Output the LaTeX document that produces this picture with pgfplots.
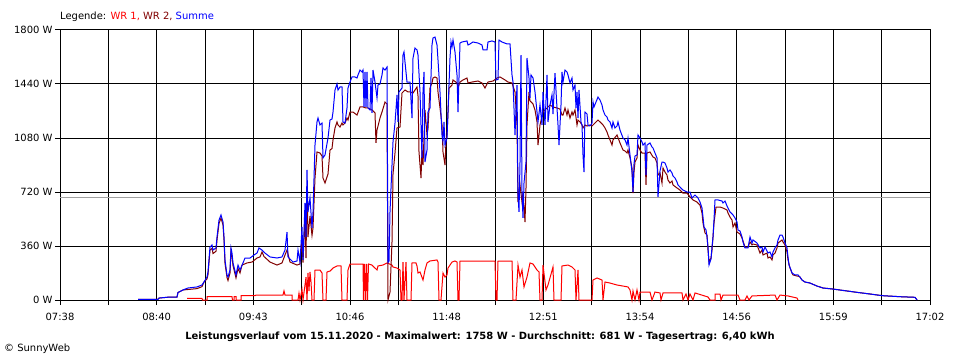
\documentclass[border=0pt]{standalone}
\usepackage{pgfplots}
\pgfplotsset{compat=1.18}
\usepackage{fontspec}
\setmainfont{DejaVu Sans}
\definecolor{wrone}{RGB}{255,0,0}
\definecolor{wrtwo}{RGB}{128,0,0}
\definecolor{summe}{RGB}{0,0,255}
\definecolor{avgline}{RGB}{160,160,160}
\begin{document}
\begin{tikzpicture}[x=1bp,y=1bp]
\useasboundingbox (0,0) rectangle (960,360);
\begin{axis}[
  at={(60bp,60bp)}, anchor=south west,
  scale only axis, width=870bp, height=270bp,
  xmin=0, xmax=870, ymin=0, ymax=1800,
  clip=false,
  axis line style={black, line width=1bp},
  grid=major, grid style={black, line width=1bp},
  tick pos=left, tick align=outside, major tick length=5bp,
  tick style={black, line width=1bp},
  xtick={0,48.333,96.667,145,193.333,241.667,290,338.333,386.667,435,483.333,531.667,580,628.333,676.667,725,773.333,821.667,870},
  xticklabels={07:38,,08:40,,09:43,,10:46,,11:48,,12:51,,13:54,,14:56,,15:59,,17:02},
  ytick={0,360,720,1080,1440,1800},
  yticklabels={0 W,360 W,720 W,1080 W,1440 W,1800 W},
  tick label style={font=\fontsize{10}{12}\selectfont},
  xticklabel style={yshift=-4.5bp},
  yticklabel style={xshift=1bp},
]
\addplot[avgline, line width=1bp] coordinates {(0,681) (870,681)};
\addplot[wrone, line width=1bp] coordinates {
(127,11)(142,11)(142.5,0)(147,0)(147,22)(172,22)(172.5,0)(174,0)(174,22)(176,22)(176,0)(181,0)(181,29)(195,29)(196,33)(223,33)(224,60)(225,33)(232,33)(232,0)(238,0)(239,45)(240,0)(242,70)(243,0)(245,100)(246,153)(247,0)(248,180)(249,60)(250,187)(251,120)(252,0)(254,0)(255,200)(260,200)(262,180)(263,0)(266,0)(267,187)(270,193)(273,213)(277,227)(281,227)(282,0)(287,0)(288,200)(290,240)(303,240)(303.5,0)(304.5,240)(305.5,0)(306.5,240)(307.5,0)(308.5,240)(312,233)(315,213)(317,200)(318,227)(323,233)(327,247)(332,233)(333,220)(337,213)(340,200)(341,0)(342,0)(343,253)(344,0)(346,253)(347,0)(351,0)(352,247)(356,247)(357,227)(358,180)(360,187)(363,133)(365,200)(367,247)(370,260)(377,267)(378,253)(379,0)(381,0)(383,180)(385,153)(387,167)(388,213)(392,253)(395,260)(397,253)(398,0)(399,0)(400,260)(435,260)(436,0)(437,0)(438,260)(452,260)(453,0)(456,0)(458,233)(460,153)(462,200)(464,87)(467,153)(470,247)(473,240)(477,200)(479,187)(480,0)(482,0)(483,233)(486,67)(488,100)(493,220)(494,0)(501,0)(502,227)(508,233)(512,220)(515,200)(516,0)(518,200)(519,0)(532,0)(533,133)(537,147)(542,133)(543,0)(545,120)(550,113)(557,100)(563,93)(568,87)(570,67)(572,0)(573,60)(575,0)(577,67)(579,0)(580,53)(590,53)(592,0)(595,53)(600,47)(601,0)(603,47)(622,47)(623,0)(626,40)(628,0)(630,40)(633,0)(635,47)(648,20)(650,0)(655,0)(655,40)(660,40)(661,0)(663,33)(678,33)(680,0)(685,0)(687,27)(689,0)(692,27)(715,33)(717,0)(720,33)(728,27)(737,13)(738,0)
};
\addplot[wrtwo, line width=1bp] coordinates {
(78,5)(98,5)(99,13)(110,20)(117,20)(118,50)(123,67)(128,70)(137,76)(142,89)(144,120)(147,140)(148,170)(150,333)(152,345)(153,310)(156,325)(157,400)(159,510)(161,547)(163,500)(164,400)(165,245)(167,150)(168,130)(170,180)(171,325)(172,290)(173,230)(176,147)(178,210)(180,180)(182,233)(187,247)(192,253)(197,280)(200,287)(202,320)(204,290)(210,253)(217,233)(222,247)(225,300)(227,333)(230,253)(237,233)(240,240)(242,400)(243,250)(245,560)(246,280)(247,760)(248,420)(250,560)(252,430)(253,480)(255,813)(257,987)(260,980)(262,960)(263,813)(265,780)(268,840)(270,1000)(272,1010)(273,1067)(275,1147)(277,1187)(278,1167)(280,1153)(282,1180)(283,1167)(285,1180)(287,1213)(288,1200)(290,1253)(293,1253)(297,1233)(300,1287)(303,1287)(306,1280)(308,1280)(312,1267)(315,1247)(316,1047)(317,1133)(320,1213)(322,1253)(325,1320)(327,1307)(328,0)(330,53)(332,387)(333,840)(335,980)(337,1147)(340,1153)(342,1380)(345,1400)(348,1387)(350,1387)(353,1380)(357,1420)(358,1360)(359,987)(361,813)(362,1000)(363,900)(365,1267)(367,1100)(368,1147)(370,1413)(372,1447)(373,1480)(375,1487)(377,1480)(378,1387)(380,1280)(382,1167)(383,987)(385,900)(386,1060)(387,1100)(388,1250)(389,1413)(392,1433)(393,1467)(397,1447)(398,1420)(400,1453)(403,1467)(407,1480)(408,1447)(412,1453)(418,1460)(422,1447)(425,1413)(428,1453)(433,1460)(437,1480)(440,1487)(445,1467)(448,1453)(452,1447)(455,1387)(457,1167)(458,653)(460,767)(462,653)(463,720)(465,520)(466,747)(467,1167)(469,1387)(470,1327)(473,1307)(475,1267)(477,1187)(478,1033)(480,1167)(483,1253)(485,1267)(487,1280)(490,1300)(493,1287)(497,1280)(500,1273)(502,1233)(503,1233)(505,1280)(507,1233)(508,1267)(510,1213)(512,1253)(513,1233)(515,1267)(517,1167)(518,1200)(520,1187)(522,1167)(523,1147)(525,1167)(527,1160)(530,1167)(532,1160)(533,1167)(535,1180)(538,1200)(540,1187)(543,1167)(545,1147)(547,1120)(548,1100)(550,1067)(552,1033)(553,1067)(557,1100)(560,1047)(563,1000)(565,993)(567,980)(568,1000)(570,947)(572,880)(573,713)(574,853)(575,920)(577,947)(578,1033)(580,1000)(582,980)(585,980)(586,767)(587,980)(590,987)(593,953)(595,947)(597,913)(598,833)(600,847)(602,780)(603,880)(605,853)(607,833)(608,800)(610,780)(612,793)(613,767)(617,747)(620,733)(623,713)(627,713)(630,687)(633,667)(637,653)(640,633)(642,580)(643,513)(645,447)(647,433)(648,333)(649,253)(651,280)(652,333)(653,420)(654,513)(656,620)(660,620)(663,613)(667,600)(668,580)(670,553)(672,533)(673,487)(675,513)(677,453)(680,440)(682,413)(685,353)(688,353)(690,387)(692,367)(693,373)(697,367)(700,313)(702,333)(703,300)(707,313)(708,280)(710,287)(712,267)(713,300)(715,313)(717,347)(718,380)(722,400)(723,387)(725,367)(727,320)(728,267)(730,213)(732,180)(733,167)(737,160)(738,160)(740,153)(742,133)(745,120)(750,113)(757,93)(763,80)(773,73)(785,62)(797,51)(810,40)(822,29)(840,22)(855,18)(857,0)
};
\addplot[summe, line width=1bp] coordinates {
(78,5)(98,5)(99,13)(110,20)(117,20)(118,50)(123,67)(128,80)(137,87)(142,100)(144,120)(147,153)(148,187)(150,353)(152,367)(153,333)(156,347)(157,420)(159,533)(161,567)(163,520)(164,420)(165,267)(167,167)(168,153)(170,200)(171,347)(172,313)(173,247)(176,167)(178,233)(180,200)(183,247)(185,280)(190,280)(194,300)(197,313)(199,347)(202,333)(205,313)(210,287)(217,280)(222,287)(225,333)(227,453)(228,287)(233,253)(237,260)(238,333)(240,253)(242,487)(243,267)(245,647)(246,420)(247,867)(248,587)(250,680)(252,480)(253,587)(255,1033)(257,1187)(258,1213)(260,1167)(262,1180)(263,947)(265,967)(268,1080)(270,1200)(272,1207)(273,1253)(275,1400)(277,1440)(278,1400)(280,1420)(282,1420)(283,1187)(285,1180)(287,1280)(288,1413)(290,1453)(292,1487)(295,1487)(297,1480)(298,1500)(300,1533)(302,1520)(303,1533)(304,1287)(305,1520)(306,1287)(307,1520)(308,1280)(310,1267)(311,1480)(312,1247)(313,1533)(315,1453)(317,1347)(318,1433)(320,1440)(322,1500)(323,1547)(325,1533)(327,1553)(328,250)(329,260)(330,587)(332,900)(333,1053)(335,1180)(337,1367)(338,1187)(339,1387)(342,1413)(343,1633)(344,1653)(347,1453)(350,1453)(352,1213)(353,1613)(355,1680)(357,1667)(358,1633)(360,1387)(362,947)(363,1387)(364,1520)(365,920)(367,1000)(368,1253)(370,1280)(372,1700)(373,1747)(375,1753)(377,1700)(378,1600)(380,1387)(382,1100)(383,1060)(384,1187)(385,1033)(387,1080)(388,1253)(389,1433)(390,1613)(391,1720)(392,1687)(393,1733)(395,1653)(397,1500)(398,1253)(400,1713)(402,1720)(407,1727)(408,1700)(410,1707)(413,1720)(418,1713)(422,1700)(423,1667)(427,1667)(428,1720)(432,1727)(435,1720)(436,1467)(438,1470)(439,1733)(442,1720)(447,1707)(450,1707)(452,1500)(453,1453)(455,1100)(457,1433)(458,700)(459,587)(460,920)(461,1633)(462,720)(463,547)(464,780)(466,920)(467,1613)(469,1480)(470,1347)(471,1500)(473,1480)(475,1387)(477,1253)(478,1187)(480,1300)(482,1167)(483,1387)(485,1167)(487,1500)(488,1187)(490,1300)(492,1367)(493,1240)(495,1513)(497,1280)(498,1167)(499,1033)(501,1300)(502,1520)(503,1453)(505,1533)(507,1520)(508,1500)(510,1447)(512,1480)(513,1400)(515,1433)(516,1280)(517,1387)(518,1213)(519,1400)(521,1187)(522,1167)(523,967)(524,853)(525,1253)(527,1240)(528,1167)(529,1160)(531,1167)(532,1180)(533,1320)(534,1287)(536,1320)(538,1353)(540,1333)(542,1300)(543,1267)(545,1233)(547,1220)(548,1200)(550,1187)(552,1147)(553,1187)(555,1147)(557,1160)(558,1187)(560,1133)(563,1080)(565,1067)(567,1033)(568,1080)(570,967)(572,853)(573,720)(574,907)(575,960)(577,967)(578,1100)(580,1080)(582,1053)(583,1033)(585,1047)(586,833)(587,1033)(590,1047)(592,1020)(593,1013)(595,980)(597,947)(598,687)(600,860)(602,920)(603,920)(605,913)(607,880)(608,853)(610,867)(612,847)(613,827)(615,813)(617,787)(618,767)(620,753)(623,733)(627,720)(630,720)(632,680)(633,687)(635,700)(637,687)(638,680)(640,653)(642,613)(643,553)(644,487)(646,467)(647,420)(648,353)(649,233)(651,273)(652,353)(653,420)(654,533)(655,667)(658,667)(662,660)(663,647)(665,660)(667,627)(668,613)(670,587)(673,567)(675,547)(677,520)(678,467)(680,460)(682,420)(683,387)(685,347)(688,347)(690,420)(692,380)(693,400)(697,380)(700,347)(702,353)(703,320)(705,353)(708,313)(710,320)(712,287)(713,320)(715,347)(717,367)(718,400)(720,433)(722,433)(723,420)(725,380)(727,347)(728,287)(729,233)(731,200)(732,180)(735,167)(738,167)(740,153)(742,133)(745,120)(750,113)(757,93)(763,80)(773,73)(785,62)(797,51)(810,40)(822,29)(840,22)(855,18)(857,0)
};
\end{axis}
\node[anchor=west, inner sep=0pt, font=\fontsize{10}{12}\selectfont] at (60,343)
  {Legende: \textcolor{wrone}{WR 1,} \textcolor{wrtwo}{WR 2,} \textcolor{summe}{Summe}};
\node[inner sep=0pt, font=\fontsize{10}{12}\selectfont\bfseries] at (480,23)
  {Leistungsverlauf vom 15.11.2020 - Maximalwert: 1758 W - Durchschnitt: 681 W - Tagesertrag: 6,40 kWh};
\node[anchor=west, inner sep=0pt, font=\fontsize{10}{12}\selectfont] at (4,11)
  {\textcopyright\ SunnyWeb};
\end{tikzpicture}
\end{document}
